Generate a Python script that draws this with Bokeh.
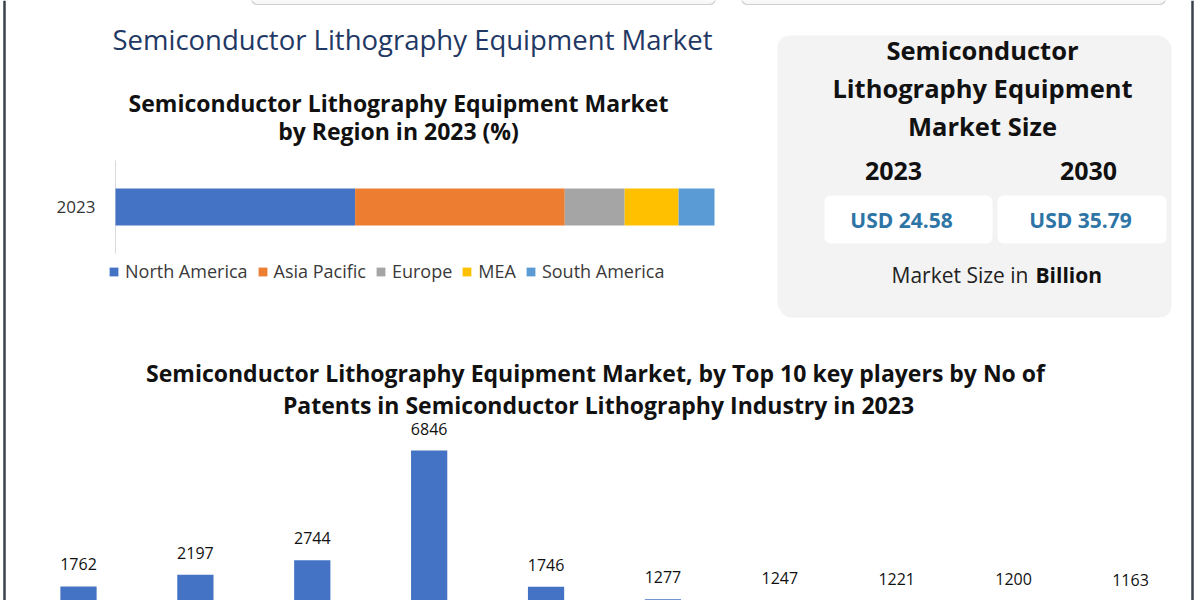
from bokeh.plotting import figure
from bokeh.models import Range1d, Legend, LegendItem
from bokeh.core.properties import value
from bokeh.embed import file_html
from bokeh.resources import INLINE

# ---------------- data ----------------
main_title = "Semiconductor Lithography Equipment Market"

region_title = ["Semiconductor Lithography Equipment Market", "by Region in 2023 (%)"]
region_years = ["2023"]
regions = ["North America", "Asia Pacific", "Europe", "MEA", "South America"]
region_share_2023 = [40, 35, 10, 9, 6]
region_colors = ["#4472C4", "#ED7D31", "#A5A5A5", "#FFC000", "#5B9BD5"]

patent_title = ["Semiconductor Lithography Equipment Market, by Top 10 key players by  No of",
                "Patents in Semiconductor Lithography Industry in 2023"]
players = ["Key player %d" % (i + 1) for i in range(10)]
patents = [1762, 2197, 2744, 6846, 1746, 1277, 1247, 1221, 1200, 1163]

size_title = ["Semiconductor", "Lithography Equipment", "Market Size"]
size_years = ["2023", "2030"]
size_values = [24.58, 35.79]
size_unit = ["Market Size in", "Billion"]

# ---------------- layout helpers ----------------
W, H = 1200, 600
LEFT, TOP = 0, 0
RIGHT, BOTTOM = LEFT + W, TOP + H
FONT_NAME = "Open Sans"
FONT = value(FONT_NAME)


def lin_range(v0, p0, v1, p1, lo, hi):
    s = (p1 - p0) / (v1 - v0)
    return Range1d(start=v0 + (lo - p0) / s, end=v0 + (hi - p0) / s)


p = figure(width=W, height=H, x_range=Range1d(LEFT, RIGHT), y_range=Range1d(BOTTOM, TOP),
           x_axis_type=None, y_axis_type=None, output_backend="svg",
           toolbar_location=None, min_border=0)
p.grid.visible = False
p.outline_line_color = None
p.background_fill_color = "white"

p.extra_x_ranges = {
    "pct": lin_range(0, 115, 100, 714, LEFT, RIGHT),
    "plr": lin_range(0, 78, len(players) - 1, 1130, LEFT, RIGHT),
}
p.extra_y_ranges = {
    "reg": lin_range(0, 206.5, 1, 144.5, BOTTOM, TOP),
    "pat": lin_range(0, 633, 6846, 450, BOTTOM, TOP),
}

# cut-off boxes at the very top and frame border
p.quad(left=[251, 741], right=[715, 1165], top=[-20, -20], bottom=[4, 4],
       fill_color="#f7f7f7", line_color="#cfcfcf", line_width=1.2, border_radius=6)
p.segment(x0=[4, 1192], x1=[4, 1192], y0=[TOP, TOP], y1=[BOTTOM, BOTTOM],
          line_color="#3a424c", line_width=2.5)

# main title
p.text(x=[412], y=[39], text=[main_title], text_font=FONT, text_font_size="27.5px",
       text_color="#1F3864", text_align="center", text_baseline="middle")

# ---------- region stacked bar ----------
p.text(x=[398, 398], y=[102.7, 130.5], text=region_title, text_font=FONT,
       text_font_size="23px", text_font_style="bold", text_color="#111111",
       text_align="center", text_baseline="middle")

p.segment(x0=[0], x1=[0], y0=[-0.75], y1=[0.75], line_color="#d9d9d9", line_width=1,
          x_range_name="pct", y_range_name="reg")

items = []
left = 0
for name, share, col in zip(regions, region_share_2023, region_colors):
    r = p.hbar(y=[0], left=[left], right=[left + share], height=0.6, fill_color=col,
               line_color=None, x_range_name="pct", y_range_name="reg")
    items.append(LegendItem(label=name, renderers=[r]))
    left += share

p.text(x=[0] * len(region_years), y=list(range(len(region_years))), text=region_years,
       x_offset=-20, text_font=FONT, text_font_size="17px", text_color="#333333",
       text_align="right", text_baseline="middle", x_range_name="pct", y_range_name="reg")

legend = Legend(items=items, orientation="horizontal", location=(108, 317),
                glyph_width=11, glyph_height=11, label_standoff=6, spacing=9,
                padding=0, margin=0, border_line_color=None, background_fill_alpha=0,
                label_text_font=FONT_NAME, label_text_font_size="18px",
                label_text_color="#3a3a3a")
p.add_layout(legend, "center")

# ---------- market size panel ----------
p.quad(left=[779], right=[1171], top=[37], bottom=[317], fill_color="#e9e9e9",
       fill_alpha=0.6, line_color=None, border_radius=12)
p.quad(left=[777], right=[1169], top=[35], bottom=[314], fill_color="#f3f3f3",
       line_color=None, border_radius=12)
p.text(x=[982] * 3, y=[49.7, 87.8, 125.8], text=size_title, text_font=FONT,
       text_font_size="25.5px", text_font_style="bold", text_color="#111111",
       text_align="center", text_baseline="middle")
p.text(x=[893, 1088], y=[170, 170], text=size_years, text_font=FONT, text_font_size="25px",
       text_font_style="bold", text_color="#111111", text_align="center",
       text_baseline="middle")
p.quad(left=[824, 997], right=[992, 1166], top=[195, 195], bottom=[243, 243],
       fill_color="white", line_color=None, border_radius=6)
p.text(x=[901, 1080], y=[219, 219], text=["USD %.2f" % v for v in size_values],
       text_font=FONT, text_font_size="21px", text_font_style="bold",
       text_color="#2E75A6", text_align="center", text_baseline="middle")
p.text(x=[1028], y=[274], text=[size_unit[0]], text_font=FONT, text_font_size="21px",
       text_color="#222222", text_align="right", text_baseline="middle")
p.text(x=[1035], y=[274], text=[size_unit[1]], text_font=FONT, text_font_size="21px",
       text_font_style="bold", text_color="#111111", text_align="left",
       text_baseline="middle")

# ---------- patents bar chart ----------
p.text(x=[598, 598], y=[372, 404], text=patent_title, text_font=FONT, text_font_size="23px",
       text_font_style="bold", text_color="#111111", text_align="center",
       text_baseline="middle")
idx = list(range(len(players)))
p.vbar(x=idx, top=patents, bottom=0, width=0.31, fill_color="#4472C4", line_color=None,
       x_range_name="plr", y_range_name="pat")
p.text(x=idx, y=patents, text=[str(v) for v in patents], y_offset=-22,
       text_font=FONT, text_font_size="16px", text_color="#111111",
       text_align="center", text_baseline="middle",
       x_range_name="plr", y_range_name="pat")

open("out.html", "w").write(file_html(p, INLINE))
